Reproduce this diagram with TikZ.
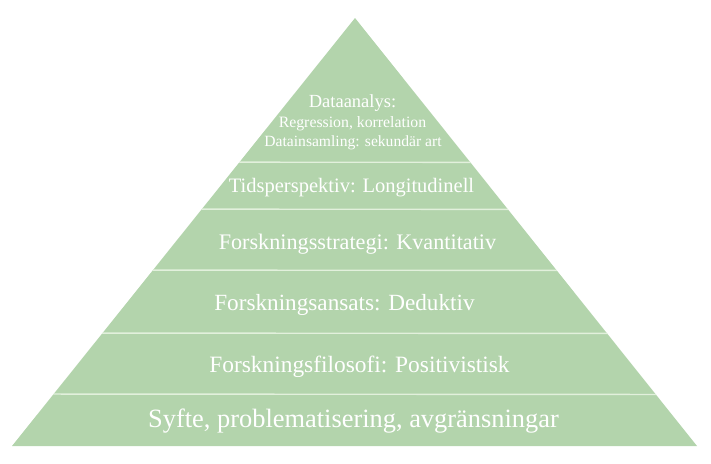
\documentclass[tikz,border=0pt]{standalone}
\usepackage{fontspec}
\setmainfont{Liberation Serif}
\definecolor{pyrgreen}{RGB}{179,212,172}
\definecolor{sepline}{RGB}{226,240,220}
\tikzset{
  lbl/.style={text=white, inner sep=0pt, anchor=base},
  sep/.style={draw=sepline, line width=1.4pt}
}
\begin{document}
\begin{tikzpicture}[x=1pt,y=-1pt]
\useasboundingbox (0,0) rectangle (711,463);
\coordinate (apex) at (355,18);
\coordinate (bl) at (12,446);
\coordinate (br) at (697,446);
\fill[pyrgreen] (apex) -- (br) -- (bl) -- cycle;
\begin{scope}
\clip (apex) -- (br) -- (bl) -- cycle;
\foreach \yy in {162,209,270,333,394}{
  \draw[sep] (0,\yy) -- (711,\yy+0.5);
}
\end{scope}
\node[lbl, font=\fontsize{18.5}{20}\selectfont] (t1) at (352.5,107.5) {Dataanalys:};
\node[lbl, font=\fontsize{15.8}{18}\selectfont] (t2) at (352.5,127) {Regression, korrelation};
\node[lbl, font=\fontsize{15.6}{18}\selectfont] (t3) at (353,146) {Datainsamling: sekundär art};
\node[lbl, font=\fontsize{20.5}{22}\selectfont] (t4) at (351.5,192) {Tidsperspektiv: Longitudinell};
\node[lbl, font=\fontsize{22.2}{24}\selectfont] (t5) at (357.5,249.5) {Forskningsstrategi: Kvantitativ};
\node[lbl, font=\fontsize{23.2}{26}\selectfont] (t6) at (344.5,310) {Forskningsansats: Deduktiv};
\node[lbl, font=\fontsize{23.4}{26}\selectfont] (t7) at (359.5,372) {Forskningsfilosofi: Positivistisk};
\node[lbl, font=\fontsize{26.4}{30}\selectfont] (t8) at (353.5,427.5) {Syfte, problematisering, avgränsningar};
\end{tikzpicture}
\end{document}
